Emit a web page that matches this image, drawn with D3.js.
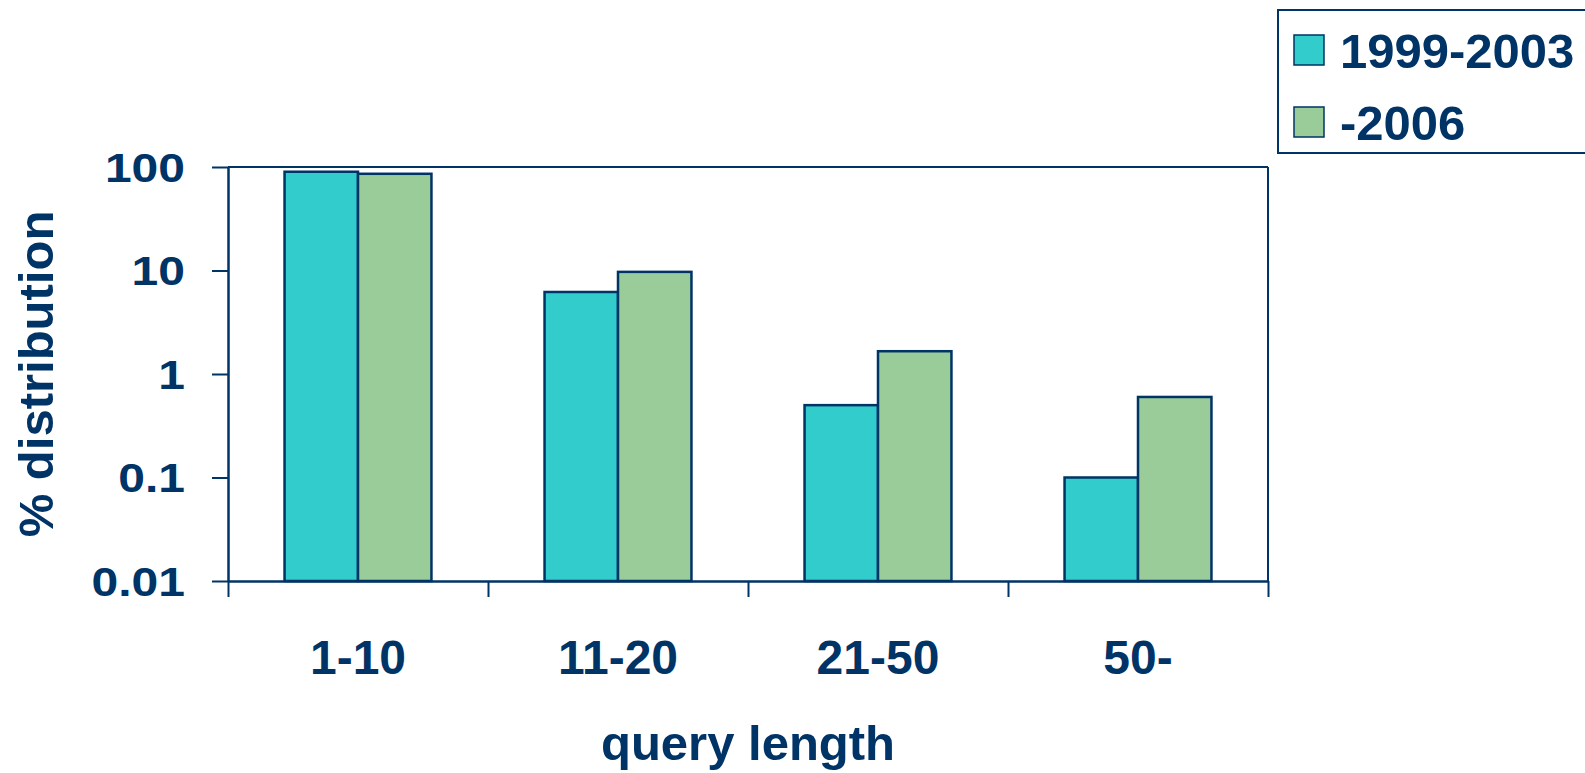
<!DOCTYPE html>
<html>
<head>
<meta charset="utf-8">
<script src="https://cdn.jsdelivr.net/npm/d3@7"></script>
<style>
  body { margin: 0; background: #fff; }
  #chart { width: 1585px; height: 773px; }
  text { font-family: "Liberation Sans", Arial, Helvetica, sans-serif; font-weight: bold; fill: #003366; }
</style>
</head>
<body>
<div id="chart"></div>
<script>
// data
const lengths = ["1-10", "11-20", "21-50", "50-"];
const periods = ["1999-2003", "-2006"];
const early = [90, 6.2, 0.5, 0.1];
const late = [86, 9.7, 1.66, 0.6];
const yTicks = [0.01, 0.1, 1, 10, 100];

const navy = "#003366";
const colors = d3.scaleOrdinal().domain(periods).range(["#33CCCC", "#99CC99"]);

const width = 1585, height = 773;
const svg = d3.select("#chart").append("svg")
    .attr("width", width)
    .attr("height", height);

const plotLeft = 228, plotRight = 1268, plotTop = 167, plotBottom = 581;

const y = d3.scaleLog().domain([0.01, 100]).range([plotBottom, plotTop]);

const x0 = d3.scaleBand()
    .domain(lengths)
    .range([plotLeft, plotRight])
    .paddingInner(0.435)
    .paddingOuter(0.2175);

const x1 = d3.scaleBand()
    .domain(periods)
    .range([0, x0.bandwidth()]);

// boundary ticks on the bottom axis
const xb = d3.scaleLinear().domain([0, lengths.length]).range([plotLeft, plotRight]);

// bars
const rows = lengths.map((c, i) => ({ cat: c, vals: [early[i], late[i]] }));
const groups = svg.append("g").selectAll("g")
    .data(rows)
    .join("g")
    .attr("transform", d => `translate(${x0(d.cat)},0)`);

groups.selectAll("rect")
    .data(d => d.vals.map((v, j) => ({ key: periods[j], v: v })))
    .join("rect")
    .attr("x", d => x1(d.key))
    .attr("y", d => y(d.v))
    .attr("width", x1.bandwidth())
    .attr("height", d => y(0.01) - y(d.v))
    .attr("fill", d => colors(d.key))
    .attr("stroke", navy)
    .attr("stroke-width", 2.5);

// frame top and right
svg.append("line")
    .attr("x1", plotLeft).attr("x2", plotRight)
    .attr("y1", plotTop).attr("y2", plotTop)
    .attr("stroke", navy).attr("stroke-width", 2);
svg.append("line")
    .attr("x1", plotRight).attr("x2", plotRight)
    .attr("y1", plotTop).attr("y2", plotBottom)
    .attr("stroke", navy).attr("stroke-width", 2);

// y axis
const yAxis = svg.append("g")
    .attr("transform", `translate(${plotLeft},0)`)
    .call(d3.axisLeft(y).tickValues(yTicks).tickSize(16).tickSizeOuter(0)
        .tickFormat(d => d >= 1 ? d3.format("d")(d) : String(d)));
yAxis.select(".domain").attr("stroke", navy).attr("stroke-width", 2.5);
yAxis.selectAll(".tick line").attr("stroke", navy).attr("stroke-width", 2);
yAxis.selectAll(".tick text")
    .attr("font-size", 40)
    .attr("x", -43 / 1.2)
    .attr("dy", "0.35em")
    .attr("transform", "scale(1.2,1)")
    .attr("text-anchor", "end")
    .attr("fill", navy);

// x axis
const xAxis = svg.append("g")
    .attr("transform", `translate(0,${plotBottom})`)
    .call(d3.axisBottom(xb).tickValues(d3.range(lengths.length + 1)).tickSize(16).tickSizeOuter(0).tickFormat(""));
xAxis.select(".domain").attr("stroke", navy).attr("stroke-width", 2.5);
xAxis.selectAll(".tick line").attr("stroke", navy).attr("stroke-width", 2);

svg.append("g").selectAll("text")
    .data(lengths)
    .join("text")
    .attr("x", d => x0(d) + x0.bandwidth() / 2)
    .attr("y", 674)
    .attr("text-anchor", "middle")
    .attr("font-size", 48)
    .text(d => d);

// axis titles
svg.append("text")
    .attr("x", (plotLeft + plotRight) / 2)
    .attr("y", 760)
    .attr("text-anchor", "middle")
    .attr("font-size", 49)
    .text("query length");

svg.append("text")
    .attr("transform", `translate(53,${(plotTop + plotBottom) / 2}) rotate(-90)`)
    .attr("text-anchor", "middle")
    .attr("font-size", 49)
    .text("% distribution");

// legend
const legend = svg.append("g");
legend.append("rect")
    .attr("x", 1278).attr("y", 10)
    .attr("width", 320).attr("height", 143)
    .attr("fill", "#fff")
    .attr("stroke", navy).attr("stroke-width", 2);

const items = legend.selectAll("g.item")
    .data(periods)
    .join("g")
    .attr("class", "item")
    .attr("transform", (d, i) => `translate(1294,${35 + i * 72})`);
items.append("rect")
    .attr("width", 30).attr("height", 30)
    .attr("fill", d => colors(d))
    .attr("stroke", navy).attr("stroke-width", 1.5);
items.append("text")
    .attr("x", 46)
    .attr("y", 33)
    .attr("font-size", 49)
    .text(d => d);
</script>
</body>
</html>
